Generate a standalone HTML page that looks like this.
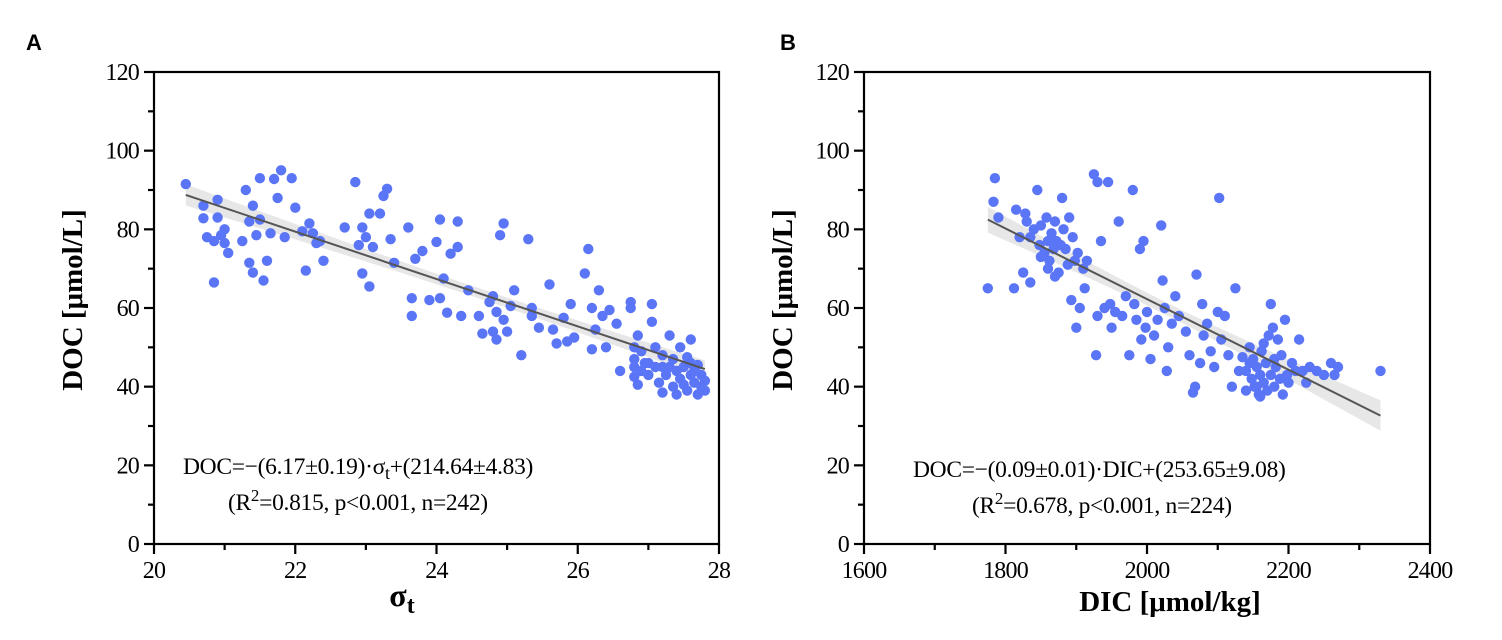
<!DOCTYPE html>
<html><head><meta charset="utf-8"><style>
body{margin:0;background:#fff;}
svg{display:block;font-family:"Liberation Serif",serif;}
</style></head><body>
<svg id="c" width="1502" height="640" xmlns="http://www.w3.org/2000/svg"></svg>
<script>
const yTicks=[0,20,40,60,80,100,120];
const aTicks=[20,22,24,26,28];
const bTicks=[1600,1800,2000,2200,2400];
const aSigma=[20.45,20.7,20.7,20.75,20.85,20.85,20.9,20.9,20.95,21.0,21.0,21.05,21.25,21.3,21.35,21.35,21.4,21.4,21.45,21.5,21.5,21.55,21.6,21.65,21.7,21.75,21.8,21.85,21.95,22.0,22.1,22.15,22.2,22.25,22.3,22.35,22.4,22.7,22.85,22.9,22.95,22.95,23.0,23.05,23.05,23.1,23.2,23.25,23.3,23.35,23.4,23.6,23.65,23.65,23.7,23.8,23.9,24.0,24.05,24.05,24.1,24.15,24.2,24.3,24.3,24.35,24.45,24.6,24.65,24.75,24.8,24.8,24.85,24.85,24.9,24.95,24.95,25.0,25.05,25.1,25.2,25.3,25.35,25.35,25.45,25.6,25.65,25.7,25.8,25.85,25.9,25.95,26.1,26.15,26.2,26.2,26.25,26.3,26.35,26.4,26.45,26.55,26.6,26.75,26.75,26.8,26.8,26.8,26.85,26.85,26.9,26.95,27.0,27.05,27.05,27.1,27.1,27.15,27.2,27.2,27.25,27.3,27.35,27.35,27.4,27.4,27.45,27.45,27.5,27.5,27.55,27.55,27.6,27.6,27.65,27.7,27.7,27.75,27.75,27.8,27.8,27.3,27.0,26.9,27.6,27.2,26.8,27.65];
const aDOC=[91.5,86,82.8,78,66.5,77,83,87.5,78.5,80,76.5,74,77,90,82,71.5,86,69,78.5,93,82.5,67,72,79,92.8,88,95,78,93,85.5,79.5,69.5,81.5,79,76.5,77,72,80.5,92,76,68.8,80.5,78,84,65.5,75.5,84,88.5,90.3,77.5,71.5,80.5,62.5,58,72.5,74.5,62,76.8,82.5,62.5,67.5,58.8,73.8,82,75.5,58,64.5,58,53.5,61.5,63,54,52,59,78.5,81.5,57,54,60.5,64.5,48,77.5,58,60,55,66,54.5,51,57.5,51.5,61,52.5,68.8,75,60,49.5,54.5,64.5,58,50,59.5,56,44,61.5,60,50,47,45,40.5,53,49,46,43,56.5,61,50,45,41,38.5,48,43,53,47,40,44,38,50,42,45,40.5,47.5,39,52,43,41,38,45.5,40,43,41.5,39,45,46,44,46,45,42.5,44];
const bDIC=[1775,1783,1785,1790,1812,1815,1820,1825,1828,1830,1835,1835,1840,1845,1848,1850,1855,1858,1860,1862,1865,1868,1870,1872,1875,1878,1880,1882,1885,1888,1890,1893,1895,1898,1900,1902,1905,1910,1912,1915,1925,1928,1930,1930,1935,1940,1945,1948,1950,1955,1960,1965,1970,1975,1980,1982,1985,1990,1992,1995,1998,2000,2005,2010,2015,2020,2022,2025,2028,2030,2035,2040,2045,2055,2060,2065,2068,2070,2075,2078,2080,2085,2090,2095,2100,2102,2105,2110,2115,2120,2125,2130,2135,2140,2140,2145,2148,2150,2152,2155,2158,2160,2162,2165,2165,2168,2170,2172,2175,2175,2178,2180,2180,2182,2185,2188,2190,2192,2195,2198,2200,2205,2210,2215,2220,2225,2230,2240,2250,2260,2265,2270,2330,2155,2160,2145,1850,1860,1870];
const bDOC=[65,87,93,83,65,85,78,69,84,82,66.5,78,80,90,76,81,74,83,77,72,79,75,82,77,69,76,88,80,75,71,83,62,78,72,55,74,60,70,65,72,94,48,92,58,77,60,92,61,55,59,82,58,63,48,90,61,57,75,52,77,55,59,47,53,57,81,67,60,44,50,56,63,58,54,48,38.5,40,68.5,46,61,53,56,49,45,59,88,52,58,48,40,65,44,47.5,39,44,50,42,47,40,45,38,43,49,41,51,46,39,53,61,43,55,40,47,45,52,42,48,38,57,43,41,46,44,52,44,41,45,44,43,46,43,45,44,40,37.5,46,73,70,68];

const NS="http://www.w3.org/2000/svg";
const svg=document.getElementById('c');
function mk(tag,attrs,parent,text){const e=document.createElementNS(NS,tag);for(const k in attrs)e.setAttribute(k,attrs[k]);if(text!==undefined)e.textContent=text;(parent||svg).appendChild(e);return e;}

function fit(xs,ys){const n=xs.length;let mx=0,my=0;for(let i=0;i<n;i++){mx+=xs[i];my+=ys[i];}mx/=n;my/=n;let sxx=0,sxy=0;for(let i=0;i<n;i++){sxx+=(xs[i]-mx)**2;sxy+=(xs[i]-mx)*(ys[i]-my);}const b=sxy/sxx,a=my-b*mx;let sse=0;for(let i=0;i<n;i++)sse+=(ys[i]-a-b*xs[i])**2;const s=Math.sqrt(sse/(n-2));return{a,b,mx,sxx,n,s};}

function panel(o){
  const g=mk('g',{});
  
  
  const x=v=>o.x0+(v-o.xmin)/(o.xmax-o.xmin)*(o.x1-o.x0);
  const y=v=>544-(v/120)*472;
  const f=fit(o.xs,o.ys);
  const lo=Math.min(...o.xs),hi=Math.max(...o.xs);
  const N=30;let up=[],dn=[];
  for(let i=0;i<=N;i++){const xv=lo+(hi-lo)*i/N;const yv=f.a+f.b*xv;const se=1.97*f.s*Math.sqrt(1/f.n+(xv-f.mx)**2/f.sxx);up.push(x(xv).toFixed(1)+','+y(yv+se).toFixed(1));dn.unshift(x(xv).toFixed(1)+','+y(yv-se).toFixed(1));}
  const band=mk('polygon',{points:up.concat(dn).join(' '),fill:'#e3e3e3',opacity:'0.85'},g);
  
  
  for(let i=0;i<o.xs.length;i++){
    const c=mk('circle',{cx:x(o.xs[i]).toFixed(1),cy:y(o.ys[i]).toFixed(1),r:5.2,fill:'#5a75f5'},g);
    
    
  }
  const ln=mk('line',{x1:x(lo),y1:y(f.a+f.b*lo),x2:x(hi),y2:y(f.a+f.b*hi),stroke:'#555',"stroke-width":2},g);
  
  
  const fr=mk('rect',{x:o.x0,y:72,width:o.x1-o.x0,height:472,fill:'none',stroke:'#000',"stroke-width":2.2},g);
  
  
  for(let v=0;v<=120;v+=10){const major=yTicks.includes(v);mk('line',{x1:o.x0-(major?10:6),x2:o.x0,y1:y(v),y2:y(v),stroke:'#000',"stroke-width":2.2},g);}
  yTicks.forEach(v=>{const t=mk('text',{x:o.x0-15,y:y(v)+8,"text-anchor":'end',"font-size":24,"letter-spacing":-0.8},g,String(v));});
  const st=(o.xTicks[1]-o.xTicks[0])/2;
  for(let v=o.xmin;v<=o.xmax+1e-9;v+=st){const major=o.xTicks.some(t=>Math.abs(t-v)<1e-6);mk('line',{x1:x(v),x2:x(v),y1:544,y2:544+(major?10:6),stroke:'#000',"stroke-width":2.2},g);}
  o.xTicks.forEach(v=>{const t=mk('text',{x:x(v),y:578,"text-anchor":'middle',"font-size":24,"letter-spacing":-0.8},g,String(v));});
  const yt=mk('text',{x:0,y:0,transform:`translate(${o.x0-72},300) rotate(-90)`,"text-anchor":'middle',"font-size":29,"font-weight":'bold'},g,'DOC [μmol/L]');
  
  return {g,x,y};
}

const A=panel({name:'panel-a',x0:154,x1:719,xmin:20,xmax:28,xTicks:aTicks,xs:aSigma,ys:aDOC});
const B=panel({name:'panel-b',x0:864,x1:1430,xmin:1600,xmax:2400,xTicks:bTicks,xs:bDIC,ys:bDOC});

function txt(html,attrs,name){const t=mk('text',attrs);t.innerHTML=html;return t;}
txt('A',{x:26,y:50,"font-size":22,"font-weight":'bold',"font-family":'Liberation Sans, sans-serif'},'panel-label-a');
txt('B',{x:780,y:50,"font-size":22,"font-weight":'bold',"font-family":'Liberation Sans, sans-serif'},'panel-label-b');
txt('σ<tspan dy="7" font-size="24">t</tspan>',{x:402,y:606,"text-anchor":'middle',"font-size":32,"font-weight":'bold'},'x-axis-title-a');
txt('DIC [μmol/kg]',{x:1170,y:611,"text-anchor":'middle',"font-size":29,"font-weight":'bold'},'x-axis-title-b');
txt('DOC=−(6.17±0.19)·σ<tspan dy="5" font-size="18">t</tspan><tspan dy="-5">+(214.64±4.83)</tspan>',{x:183,y:474,"font-size":23.5,"letter-spacing":-0.3},'equation-a');
txt('(R<tspan dy="-9" font-size="17">2</tspan><tspan dy="9">=0.815, p&lt;0.001, n=242)</tspan>',{x:228,y:510,"font-size":23.5,"letter-spacing":-0.3},'stats-a');
txt('DOC=−(0.09±0.01)·DIC+(253.65±9.08)',{x:913,y:477,"font-size":23.5,"letter-spacing":-0.3},'equation-b');
txt('(R<tspan dy="-9" font-size="17">2</tspan><tspan dy="9">=0.678, p&lt;0.001, n=224)</tspan>',{x:972,y:513,"font-size":23.5,"letter-spacing":-0.3},'stats-b');
</script>
</body></html>
